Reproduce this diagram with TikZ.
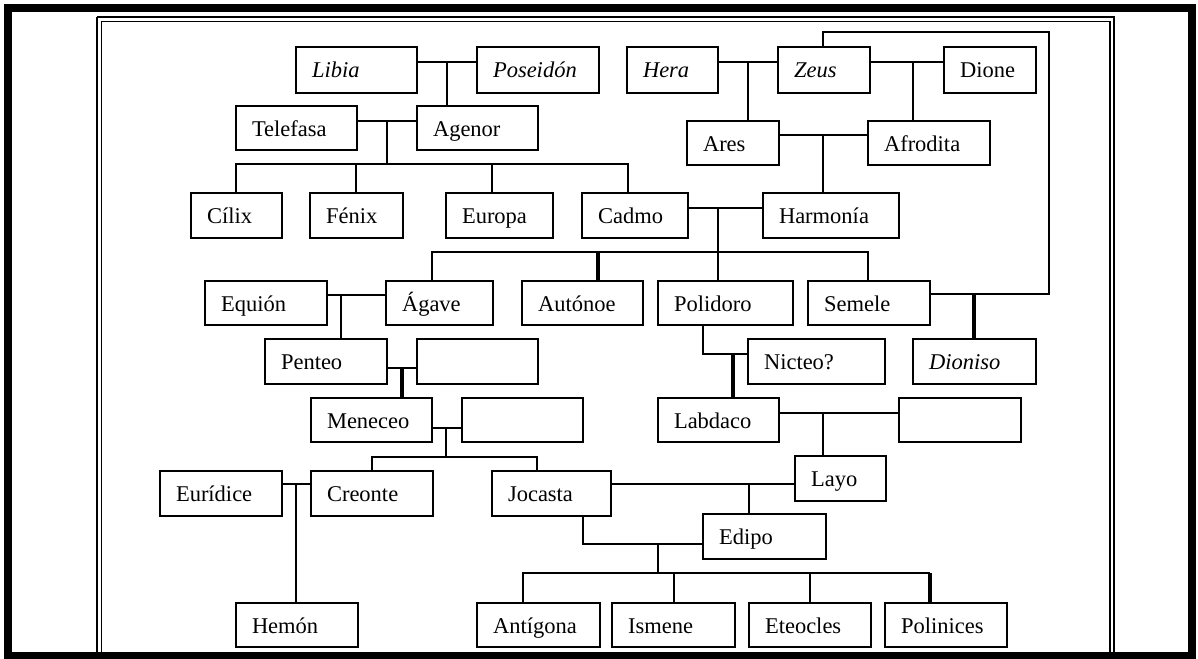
\documentclass[tikz,border=0pt]{standalone}
\usepackage{fontspec}
\setmainfont{Liberation Serif}
\tikzset{
  pbox/.style={draw, line width=2.5pt, rectangle, inner xsep=16pt, inner ysep=0pt, outer sep=0pt,
    align=left, text height=17pt, text depth=1pt, font=\fontsize{22.5}{26}\selectfont},
  link/.style={line width=2pt},
  boldlink/.style={line width=3.4pt},
}
\newcommand\pbx[6]{%
  \pgfmathsetmacro\pbw{#4-#2}%
  \pgfmathsetmacro\pbh{#5-#3}%
  \pgfmathsetmacro\pbt{#4-#2-32}%
  \node[pbox, minimum width=\pbw pt, minimum height=\pbh pt, text width=\pbt pt] (#1) at ({(#2+#4)/2},{(#3+#5)/2}) {#6};}
\begin{document}
\begin{tikzpicture}[x=1pt,y=-1pt]
\useasboundingbox (0,0) rectangle (1198,658);
% frames
\draw[line width=1.5pt] (97,17) -- (97,656) (97,17) -- (1114,17) -- (1114,656);
\draw[line width=1.3pt] (101.5,21.5) -- (101.5,656) (101.5,21.5) -- (1110,21.5) -- (1110,656);
\draw[line width=8pt] (8,8) rectangle (1192,656);
% row 1
\pbx{libia}{296}{47}{417}{93}{\itshape Libia}
\pbx{poseidon}{477}{47}{599}{93}{\itshape Poseidón}
\pbx{hera}{627}{47}{718}{93}{\itshape Hera}
\pbx{zeus}{778}{47}{870}{93}{\itshape Zeus}
\pbx{dione}{944}{47}{1036}{93}{Dione}
% row 2
\pbx{telefasa}{236}{106}{357}{150}{Telefasa}
\pbx{agenor}{417}{106}{538}{150}{Agenor}
\pbx{ares}{687}{121}{779}{165}{Ares}
\pbx{afrodita}{868}{121}{990}{165}{Afrodita}
% row 3
\pbx{cilix}{191}{193}{282}{238}{Cílix}
\pbx{fenix}{310}{193}{403}{238}{Fénix}
\pbx{europa}{446}{193}{553}{238}{Europa}
\pbx{cadmo}{582}{193}{688}{238}{Cadmo}
\pbx{harmonia}{763}{193}{899}{238}{Harmonía}
% row 4
\pbx{equion}{205}{281}{327}{325}{Equión}
\pbx{agave}{386}{281}{493}{325}{Ágave}
\pbx{autonoe}{522}{281}{643}{325}{Autónoe}
\pbx{polidoro}{658}{281}{793}{325}{Polidoro}
\pbx{semele}{808}{281}{930}{325}{Semele}
% row 5
\pbx{penteo}{265}{339}{387}{384}{Penteo}
\pbx{emptya}{417}{339}{538}{384}{}
\pbx{nicteo}{748}{339}{885}{384}{Nicteo?}
\pbx{dioniso}{913}{339}{1036}{384}{\itshape Dioniso}
% row 6
\pbx{meneceo}{311}{398}{432}{442}{Meneceo}
\pbx{emptyb}{462}{398}{583}{442}{}
\pbx{labdaco}{658}{398}{779}{442}{Labdaco}
\pbx{emptyc}{899}{398}{1021}{442}{}
% row 7
\pbx{euridice}{160}{471}{282}{516}{Eurídice}
\pbx{creonte}{311}{471}{433}{516}{Creonte}
\pbx{jocasta}{492}{471}{611}{516}{Jocasta}
\pbx{layo}{795}{456}{886}{501}{Layo}
\pbx{edipo}{703}{514}{826}{559}{Edipo}
% row 8
\pbx{hemon}{236}{603}{358}{647}{Hemón}
\pbx{antigona}{477}{603}{600}{647}{Antígona}
\pbx{ismene}{612}{603}{735}{647}{Ismene}
\pbx{eteocles}{749}{603}{871}{647}{Eteocles}
\pbx{polinices}{885}{603}{1007}{647}{Polinices}
% connectors
\draw[link] (libia.east |- 0,62) -- (poseidon.west |- 0,62);
\draw[link] (447,62) -- (447,0 |- agenor.north);
\draw[link] (hera.east |- 0,62) -- (zeus.west |- 0,62);
\draw[link] (748,62) -- (748,0 |- ares.north);
\draw[link] (zeus.east |- 0,62) -- (dione.west |- 0,62);
\draw[link] (913,62) -- (913,0 |- afrodita.north);
\draw[link] (823,0 |- zeus.north) -- (823,32) -- (1049,32) -- (1049,294) -- (semele.east |- 0,294);
\draw[boldlink] (974,294) -- (974,0 |- dioniso.north);
\draw[link] (telefasa.east |- 0,121) -- (agenor.west |- 0,121);
\draw[link] (387,121) -- (387,164);
\draw[link] (236,0 |- cilix.north) -- (236,164) -- (628,164) -- (628,0 |- cadmo.north);
\draw[link] (356,164) -- (356,0 |- fenix.north);
\draw[link] (492,164) -- (492,0 |- europa.north);
\draw[link] (ares.east |- 0,135) -- (afrodita.west |- 0,135);
\draw[link] (823,135) -- (823,0 |- harmonia.north);
\draw[link] (cadmo.east |- 0,208) -- (harmonia.west |- 0,208);
\draw[link] (718,208) -- (718,252);
\draw[link] (432,0 |- agave.north) -- (432,252) -- (868,252) -- (868,0 |- semele.north);
\draw[boldlink] (598,252) -- (598,0 |- autonoe.north);
\draw[link] (718,252) -- (718,0 |- polidoro.north);
\draw[link] (equion.east |- 0,295) -- (agave.west |- 0,295);
\draw[link] (341,295) -- (341,0 |- penteo.north);
\draw[link] (penteo.east |- 0,368) -- (emptya.west |- 0,368);
\draw[boldlink] (402,368) -- (402,0 |- meneceo.north);
\draw[link] (703,0 |- polidoro.south) -- (703,354) -- (nicteo.west |- 0,354);
\draw[boldlink] (733,354) -- (733,0 |- labdaco.north);
\draw[link] (meneceo.east |- 0,428) -- (emptyb.west |- 0,428);
\draw[link] (446,428) -- (446,457);
\draw[link] (372,0 |- creonte.north) -- (372,457) -- (537,457) -- (537,0 |- jocasta.north);
\draw[link] (labdaco.east |- 0,413) -- (emptyc.west |- 0,413);
\draw[link] (823,413) -- (823,0 |- layo.north);
\draw[link] (euridice.east |- 0,484) -- (creonte.west |- 0,484);
\draw[link] (296,484) -- (296,0 |- hemon.north);
\draw[link] (jocasta.east |- 0,484) -- (layo.west |- 0,484);
\draw[link] (749,484) -- (749,0 |- edipo.north);
\draw[link] (583,0 |- jocasta.south) -- (583,544) -- (edipo.west |- 0,544);
\draw[link] (658,544) -- (658,573);
\draw[link] (523,0 |- antigona.north) -- (523,573) -- (930,573);
\draw[link] (674,573) -- (674,0 |- ismene.north);
\draw[link] (810,573) -- (810,0 |- eteocles.north);
\draw[boldlink] (930,573) -- (930,0 |- polinices.north);
\end{tikzpicture}
\end{document}
